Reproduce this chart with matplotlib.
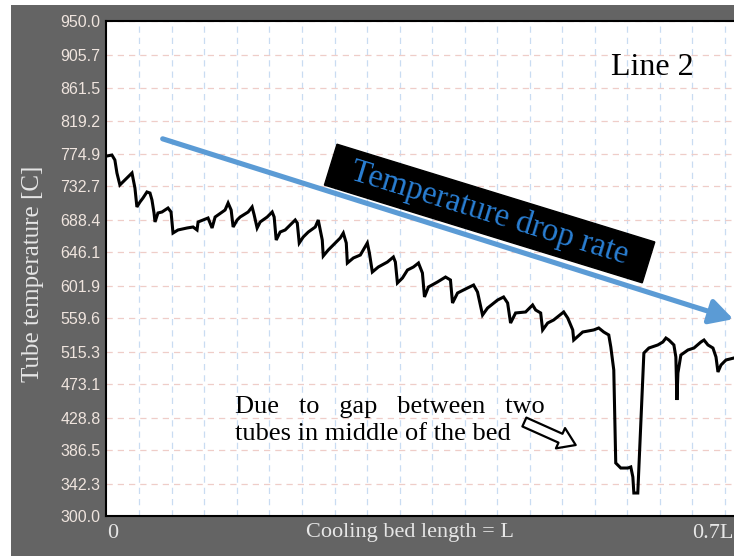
import numpy as np
import matplotlib
matplotlib.use("Agg")
import matplotlib.pyplot as plt
from matplotlib.patches import Rectangle, FancyArrowPatch
from matplotlib.ticker import FixedLocator

# ---- data (position along bed as fraction of L, tube temperature in C) ----
pos = [0.000, 0.0056, 0.0089, 0.0112, 0.0145, 0.0179, 0.0235, 0.0280, 0.0291, 0.0313,
       0.0335, 0.0369, 0.0403, 0.0447, 0.0481, 0.0503, 0.0526, 0.0537, 0.0570, 0.0615,
       0.0682, 0.0716, 0.0738, 0.0794, 0.0895, 0.0962, 0.1006, 0.1018, 0.1073, 0.1129,
       0.1174, 0.1208, 0.1241, 0.1319, 0.1353, 0.1387, 0.1409, 0.1454, 0.1487, 0.1577,
       0.1621, 0.1644, 0.1677, 0.1711, 0.1789, 0.1845, 0.1867, 0.1890, 0.1934, 0.1990,
       0.2046, 0.2102, 0.2125, 0.2147, 0.2192, 0.2248, 0.2326, 0.2359, 0.2404, 0.2415,
       0.2471, 0.2527, 0.2605, 0.2639, 0.2672, 0.2684, 0.2751, 0.2829, 0.2907, 0.2930,
       0.2963, 0.3030, 0.3131, 0.3198, 0.3220, 0.3243, 0.3299, 0.3355, 0.3422, 0.3478,
       0.3522, 0.3545, 0.3589, 0.3690, 0.3780, 0.3835, 0.3858, 0.3914, 0.3981, 0.4093,
       0.4137, 0.4193, 0.4249, 0.4361, 0.4428, 0.4473, 0.4506, 0.4562, 0.4674, 0.4752,
       0.4786, 0.4842, 0.4864, 0.4920, 0.4987, 0.5099, 0.5144, 0.5200, 0.5211, 0.5311,
       0.5434, 0.5490, 0.5546, 0.5602, 0.5625, 0.5658, 0.5680, 0.5736, 0.5815, 0.5848,
       0.5871, 0.5882, 0.5926, 0.5960, 0.5994, 0.6050, 0.6150, 0.6206, 0.6240, 0.6273,
       0.6329, 0.6351, 0.6363, 0.6374, 0.6407, 0.6486, 0.6553, 0.6631, 0.6665, 0.6709,
       0.6765, 0.6799, 0.6821, 0.6855, 0.6911, 0.7000]
temp = [772.7, 774.0, 767.5, 750.4, 734.7, 738.6, 745.2, 750.4, 743.8, 730.7,
        705.8, 712.3, 717.6, 725.5, 724.1, 715.0, 697.9, 686.1, 697.9, 699.2,
        704.4, 699.2, 671.6, 675.6, 678.2, 679.5, 675.6, 686.1, 688.7, 691.3,
        678.2, 692.6, 695.3, 701.8, 711.0, 701.8, 679.5, 688.7, 692.6, 699.2,
        705.8, 695.3, 678.2, 686.1, 692.6, 699.2, 692.6, 662.4, 672.9, 675.6,
        682.1, 688.7, 684.8, 658.5, 666.4, 672.9, 679.5, 688.7, 662.4, 641.4,
        649.3, 655.9, 665.1, 671.6, 658.5, 632.2, 638.8, 642.7, 658.5, 645.4,
        620.4, 627.0, 633.5, 640.1, 633.5, 606.0, 612.5, 623.0, 627.0, 632.2,
        619.1, 587.6, 600.7, 607.3, 613.8, 609.9, 579.7, 592.8, 596.8, 603.3,
        594.1, 563.9, 573.1, 583.6, 587.6, 579.7, 553.4, 566.6, 567.9, 577.1,
        570.5, 566.6, 544.3, 553.4, 557.4, 567.9, 560.0, 544.3, 531.1, 541.6,
        544.3, 546.9, 541.6, 537.7, 521.9, 491.7, 369.6, 363.0, 363.0, 364.4,
        351.2, 330.2, 330.2, 422.1, 514.0, 520.6, 524.6, 528.5, 533.7, 531.1,
        524.6, 508.8, 452.3, 487.8, 511.4, 518.0, 520.6, 528.5, 531.1, 524.6,
        520.6, 508.8, 489.1, 498.3, 504.9, 507.5]

ytick_vals = [300.0, 342.3, 386.5, 428.8, 473.1, 515.3, 559.6, 601.9, 646.1,
              688.4, 732.7, 774.9, 819.2, 861.5, 905.7, 950.0]
ytick_labels = ["300.0", "342.3", "386.5", "428.8", "473.1", "515.3", "559.6", "601.9",
                "646.1", "688.4", "732.7", "774.9", "819.2", "861.5", "905.7", "950.0"]
xtick_vals = [0.0, 0.7]
xtick_labels = ["0", "0.7L"]

SERIF = ["Liberation Serif", "DejaVu Serif"]
SANS = ["Liberation Sans", "DejaVu Sans"]
GREY = "#646464"
LIGHT = "#e6e6e6"

fig = plt.figure(figsize=(7.34, 5.56), dpi=100, facecolor="white")
# grey frame
fig.patches.append(Rectangle((11 / 734, 0), 1, (556 - 5) / 556, transform=fig.transFigure,
                             facecolor=GREY, edgecolor="none", zorder=-10))

ax = fig.add_axes([106 / 734, 40 / 556, 628 / 734, 495 / 556])
ax.set_zorder(1)
ax.set_facecolor("white")
ax.set_xlim(-0.001, 0.7)
ax.set_ylim(300, 950)

# grid
ax.set_yticks(ytick_vals)
ax.set_yticklabels(ytick_labels)
ax.set_xticks(xtick_vals)
ax.set_xticklabels(xtick_labels)
ax.xaxis.set_minor_locator(FixedLocator(np.arange(1, 20) * 0.0363))
ax.grid(True, axis="y", which="major", color="#efcdc8", linestyle=(0, (5, 4)), linewidth=0.9)
ax.grid(True, axis="x", which="minor", color="#c9dcf2", linestyle=(0, (5, 4)), linewidth=0.9)
ax.set_axisbelow(True)

ax.tick_params(axis="both", which="both", length=0)
ax.tick_params(axis="y", pad=4, labelsize=11.5, labelcolor="#efe4de")
ax.tick_params(axis="x", pad=6, labelsize=16, labelcolor=LIGHT)
for lab in ax.get_yticklabels():
    lab.set_family(SANS)
xl = ax.get_xticklabels()
for lab in xl:
    lab.set_family(SERIF)
xl[0].set_ha("left")
xl[1].set_ha("right")

for s in ["left", "top", "bottom"]:
    ax.spines[s].set_color("black")
    ax.spines[s].set_linewidth(1.5)
ax.spines["right"].set_visible(False)

ax.set_xlabel("Cooling bed length = L", family=SERIF, fontsize=16, color=LIGHT, va="top")
ax.xaxis.set_label_coords((410 - 106) / 628, -0.014)
ax.set_ylabel("Tube temperature [C]", family=SERIF, fontsize=18, color=LIGHT, va="center")
ax.yaxis.set_label_coords((33 - 106) / 628, 0.49)

# temperature curve
ax.plot(pos, temp, color="black", linewidth=2.2, solid_joinstyle="miter", zorder=3)

# blue trend arrow
arr = FancyArrowPatch((0.0593, 796.4), (0.7022, 557.4), arrowstyle="-|>,head_length=0.7,head_width=0.38",
                      mutation_scale=20, color="#5b9bd5", linewidth=3.7, clip_on=False, zorder=4)
ax.add_patch(arr)

# black label box
ax.text(0.4272, 697.2, "  Temperature drop rate  ", rotation=-17.1, rotation_mode="anchor",
        ha="center", va="center", family=SERIF, fontsize=23.5, color="#2a7fd4",
        bbox=dict(boxstyle="square,pad=0.18", facecolor="black", edgecolor="black"), zorder=5)

ax.text(0.6083, 879.1, "Line 2", ha="center", va="baseline", family=SERIF, fontsize=23,
        color="black", zorder=5)

# annotation
ax.text(0.1431, 435.3, "Due   to   gap   between   two", ha="left", va="baseline",
        family=SERIF, fontsize=19, color="black", zorder=5)
ax.text(0.1431, 399.8, "tubes in middle of the bed", ha="left", va="baseline",
        family=SERIF, fontsize=19, color="black", zorder=5)
hollow = FancyArrowPatch((0.4660, 423.4), (0.5233, 393.2),
                         arrowstyle="simple,head_length=0.6,head_width=0.8,tail_width=0.35",
                         mutation_scale=20, facecolor="white", edgecolor="black", linewidth=1.6,
                         shrinkA=0, shrinkB=0, zorder=5)
ax.add_patch(hollow)

fig.savefig("out.png", dpi=100, facecolor="white")
